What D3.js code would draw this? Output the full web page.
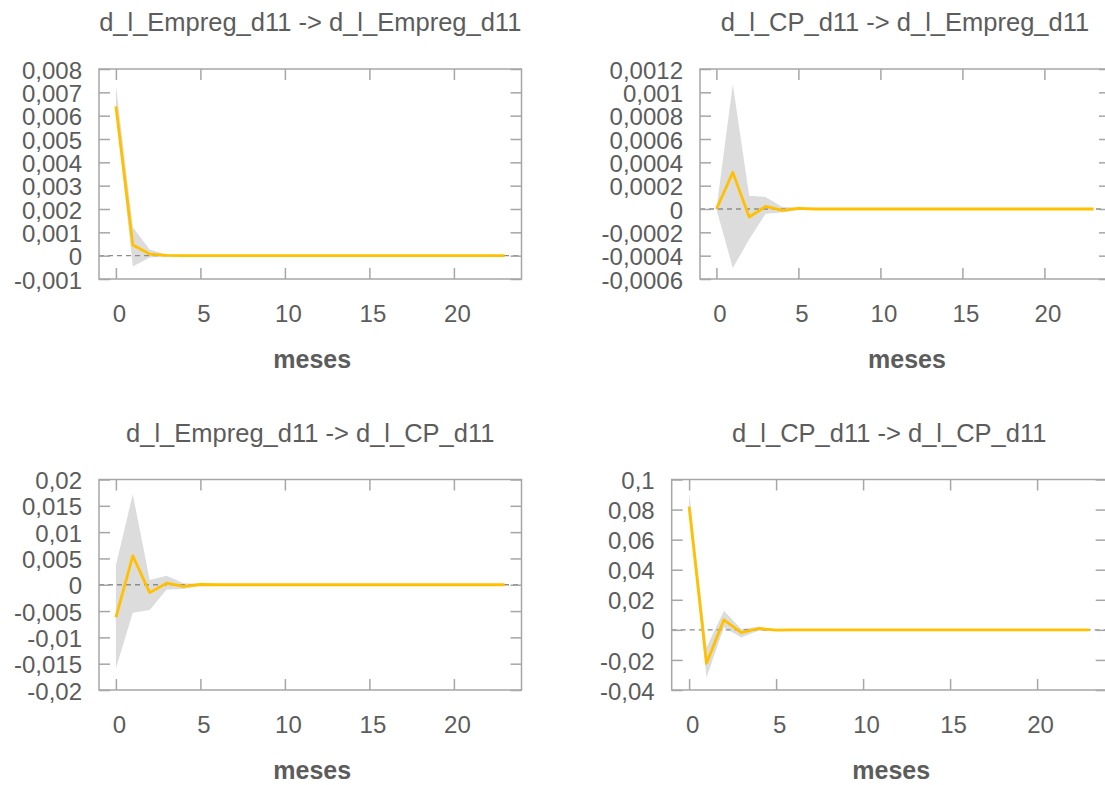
<!DOCTYPE html>
<html>
<head>
<meta charset="utf-8">
<script src="https://cdn.jsdelivr.net/npm/d3@7"></script>
<style>
  body { margin: 0; background: #fff; }
  text { font-family: "Liberation Sans", Arial, sans-serif; }
</style>
</head>
<body>
<div id="chart"></div>
<script>
// horizon (months) and x tick labels
let months = [0, 1, 2, 3, 4, 5, 6, 7, 8, 9, 10, 11, 12, 13, 14, 15, 16, 17, 18, 19, 20, 21, 22, 23];
let xTicks = [0, 5, 10, 15, 20];

// d_l_Empreg_d11 -> d_l_Empreg_d11
let empEmpIrf = [0.0064, 0.00046, 0.00007, 0.00001, 0, 0, 0, 0, 0, 0, 0, 0, 0, 0, 0, 0, 0, 0, 0, 0, 0, 0, 0, 0];
let empEmpLo  = [0.0062, -0.00046, -0.00008, -0.00002, 0, 0, 0, 0, 0, 0, 0, 0, 0, 0, 0, 0, 0, 0, 0, 0, 0, 0, 0, 0];
let empEmpHi  = [0.0073, 0.00122, 0.00026, 0.00004, 0.00001, 0, 0, 0, 0, 0, 0, 0, 0, 0, 0, 0, 0, 0, 0, 0, 0, 0, 0, 0];
let empEmpTicks = [-0.001, 0, 0.001, 0.002, 0.003, 0.004, 0.005, 0.006, 0.007, 0.008];

// d_l_CP_d11 -> d_l_Empreg_d11
let cpEmpIrf = [0, 0.000314, -0.000069, 0.000022, -0.000012, 0.000006, 0, 0, 0, 0, 0, 0, 0, 0, 0, 0, 0, 0, 0, 0, 0, 0, 0, 0];
let cpEmpLo  = [0, -0.000506, -0.00026, -0.00004, -0.00003, -0.00001, 0, 0, 0, 0, 0, 0, 0, 0, 0, 0, 0, 0, 0, 0, 0, 0, 0, 0];
let cpEmpHi  = [0, 0.00107, 0.000114, 0.000103, 0.00002, 0.00001, 0, 0, 0, 0, 0, 0, 0, 0, 0, 0, 0, 0, 0, 0, 0, 0, 0, 0];
let cpEmpTicks = [-0.0006, -0.0004, -0.0002, 0, 0.0002, 0.0004, 0.0006, 0.0008, 0.001, 0.0012];

// d_l_Empreg_d11 -> d_l_CP_d11
let empCpIrf = [-0.0062, 0.0055, -0.0015, 0.0003, -0.0003, 0.00005, 0, 0, 0, 0, 0, 0, 0, 0, 0, 0, 0, 0, 0, 0, 0, 0, 0, 0];
let empCpLo  = [-0.0159, -0.0053, -0.0048, -0.0009, -0.0008, -0.0002, 0, 0, 0, 0, 0, 0, 0, 0, 0, 0, 0, 0, 0, 0, 0, 0, 0, 0];
let empCpHi  = [0.0037, 0.0172, 0.0009, 0.0017, 0.0003, 0.0002, 0, 0, 0, 0, 0, 0, 0, 0, 0, 0, 0, 0, 0, 0, 0, 0, 0, 0];
let empCpTicks = [-0.02, -0.015, -0.01, -0.005, 0, 0.005, 0.01, 0.015, 0.02];

// d_l_CP_d11 -> d_l_CP_d11
let cpCpIrf = [0.082, -0.0222, 0.0067, -0.0018, 0.0009, -0.0002, 0, 0, 0, 0, 0, 0, 0, 0, 0, 0, 0, 0, 0, 0, 0, 0, 0, 0];
let cpCpLo  = [0.079, -0.0317, 0.0016, -0.005, -0.0005, -0.0006, 0, 0, 0, 0, 0, 0, 0, 0, 0, 0, 0, 0, 0, 0, 0, 0, 0, 0];
let cpCpHi  = [0.0916, -0.0117, 0.0127, 0.0005, 0.002, 0.0004, 0, 0, 0, 0, 0, 0, 0, 0, 0, 0, 0, 0, 0, 0, 0, 0, 0, 0];
let cpCpTicks = [-0.04, -0.02, 0, 0.02, 0.04, 0.06, 0.08, 0.1];

let xLabel = 'meses';

let textColor = '#5c5c5c';
let frameColor = '#a6a6a6';

let svg = d3.select('#chart')
  .append('svg')
  .attr('width', 1105)
  .attr('height', 785)
  .style('background-color', '#fff');

function fmt(v) {
  return String(v).replace('.', ','); // decimal comma like the original
}

function styleAxis(g) {
  g.select('.domain').remove();
  g.selectAll('.tick line').attr('stroke', frameColor).attr('stroke-width', 1.5);
  g.selectAll('.tick text').attr('fill', textColor).style('font-size', '24px');
}

function irfPanel(box, title, irf, lo, hi, yTicks) {
  let x = d3.scaleLinear().domain([-1, 24]).range([box.left, box.right]);
  let y = d3.scaleLinear().domain(d3.extent(yTicks)).range([box.bottom, box.top]);
  let g = svg.append('g');

  // confidence band
  g.append('path')
    .datum(months)
    .attr('d', d3.area().x(d => x(d)).y0(d => y(lo[d])).y1(d => y(hi[d])))
    .attr('fill', '#dcdcdc');

  // zero line
  g.append('line')
    .attr('x1', box.left).attr('x2', box.right)
    .attr('y1', y(0)).attr('y2', y(0))
    .attr('stroke', '#8c8c8c')
    .attr('stroke-width', 1.3)
    .attr('stroke-dasharray', '5,4');

  // ticks on all four sides, labels left and bottom
  g.append('g')
    .attr('transform', `translate(${box.left},0)`)
    .call(d3.axisLeft(y).tickValues(yTicks).tickSize(-11).tickPadding(17).tickFormat(fmt))
    .call(styleAxis)
    .selectAll('text').attr('dy', '0.38em');

  g.append('g')
    .attr('transform', `translate(${box.right},0)`)
    .call(d3.axisRight(y).tickValues(yTicks).tickSize(-11).tickFormat(''))
    .call(styleAxis);

  g.append('g')
    .attr('transform', `translate(0,${box.bottom})`)
    .call(d3.axisBottom(x).tickValues(xTicks).tickSize(-11).tickPadding(26))
    .call(styleAxis)
    .selectAll('text').attr('dx', 3);

  g.append('g')
    .attr('transform', `translate(0,${box.top})`)
    .call(d3.axisTop(x).tickValues(xTicks).tickSize(-11).tickFormat(''))
    .call(styleAxis);

  // response line
  g.append('path')
    .datum(months)
    .attr('d', d3.line().x(d => x(d)).y(d => y(irf[d])))
    .attr('fill', 'none')
    .attr('stroke', '#ffc000')
    .attr('stroke-width', 2.8)
    .attr('stroke-linejoin', 'round');

  // frame
  g.append('rect')
    .attr('x', box.left).attr('y', box.top)
    .attr('width', box.right - box.left).attr('height', box.bottom - box.top)
    .attr('fill', 'none')
    .attr('stroke', frameColor)
    .attr('stroke-width', 1.5);

  let cx = (box.left + box.right) / 2;

  g.append('text')
    .attr('x', cx).attr('y', box.top - 38)
    .attr('text-anchor', 'middle')
    .attr('fill', textColor)
    .style('font-size', '25.5px')
    .text(title);

  g.append('text')
    .attr('x', cx + 2).attr('y', box.bottom + 89)
    .attr('text-anchor', 'middle')
    .attr('fill', textColor)
    .style('font-size', '25px')
    .style('font-weight', 'bold')
    .text(xLabel);
}

irfPanel({left: 99, right: 521.5, top: 69, bottom: 279},
  'd_l_Empreg_d11 -> d_l_Empreg_d11', empEmpIrf, empEmpLo, empEmpHi, empEmpTicks);
irfPanel({left: 700, right: 1110, top: 69, bottom: 279},
  'd_l_CP_d11 -> d_l_Empreg_d11', cpEmpIrf, cpEmpLo, cpEmpHi, cpEmpTicks);
irfPanel({left: 99, right: 521.5, top: 479.5, bottom: 690},
  'd_l_Empreg_d11 -> d_l_CP_d11', empCpIrf, empCpLo, empCpHi, empCpTicks);
irfPanel({left: 671.7, right: 1106.7, top: 479.5, bottom: 690},
  'd_l_CP_d11 -> d_l_CP_d11', cpCpIrf, cpCpLo, cpCpHi, cpCpTicks);
</script>
</body>
</html>
